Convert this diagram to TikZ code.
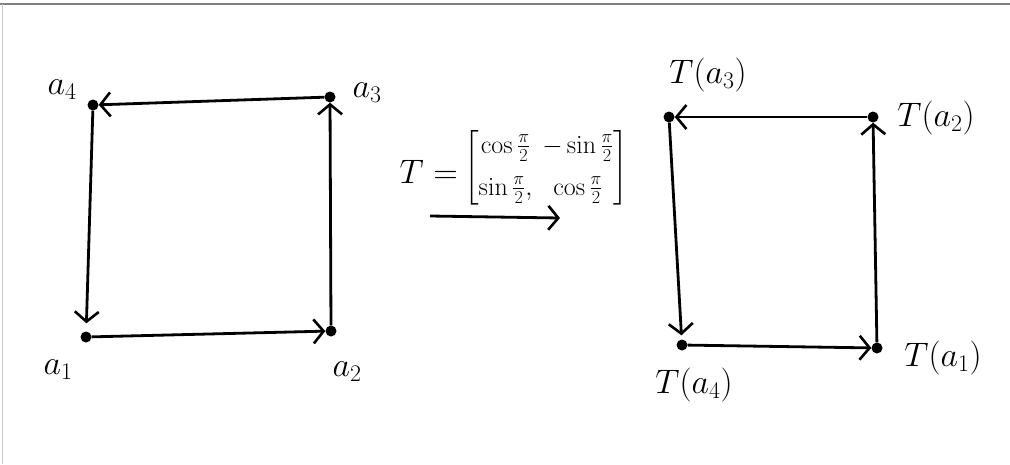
\documentclass[tikz,border=0pt]{standalone}
\usepackage{fix-cm}
\usepackage{amsmath}
\usetikzlibrary{arrows.meta}
\begin{document}
\begin{tikzpicture}[x=1pt,y=-1pt,
  dot/.style={circle,fill=black,inner sep=0pt,minimum size=11pt},
  conn/.style={line width=2.8pt,-{Straight Barb[length=10pt,width=24pt,line width=2.6pt]}},
  lbl/.style={inner sep=0pt,font=\fontsize{34}{38}\selectfont}]
\useasboundingbox (0,0) rectangle (1010,464);
\draw[gray,line width=1.5pt] (0,4) -- (1010,4);
\draw[gray!40,line width=0.8pt] (2,4) -- (2,464);
% left square
\node[dot] (a1) at (86,337) {};
\node[dot] (a2) at (331,331) {};
\node[dot] (a3) at (330,97) {};
\node[dot] (a4) at (93,105) {};
\draw[conn] (a1) -- (a2);
\draw[conn] (a2) -- (a3);
\draw[conn] (a3) -- (a4);
\draw[conn,shorten >=8pt] (a4) -- (a1);
\node[lbl] (la1) at (58,370) {$a_1$};
\node[lbl] (la2) at (347,372) {$a_2$};
\node[lbl] (la3) at (367,93) {$a_3$};
\node[lbl] (la4) at (62,90) {$a_4$};
% transformation
\node[lbl,anchor=east] (teq) at (458,172) {$T=$};
\node[inner sep=0pt,anchor=west,font=\fontsize{26}{30}\selectfont] (mat) at (464,168)
  {$\begin{bmatrix}\cos\frac{\pi}{2} & -\sin\frac{\pi}{2}\\[12pt] \sin\frac{\pi}{2}, & \cos\frac{\pi}{2}\end{bmatrix}$};
\coordinate (ts) at (430,216);
\coordinate (te) at (560,218);
\draw[conn] (ts) -- (te);
% right square
\node[dot] (b4) at (682,345) {};
\node[dot] (b1) at (877,348) {};
\node[dot] (b2) at (873,117) {};
\node[dot] (b3) at (669,117) {};
\draw[conn] (b4) -- (b1);
\draw[conn] (b1) -- (b2);
\draw[conn] (b2) -- (b3);
\draw[conn,shorten >=4pt] (b3) -- (b4);
\node[lbl] (lb3) at (708,75) {$T(a_3)$};
\node[lbl] (lb2) at (936,118) {$T(a_2)$};
\node[lbl] (lb4) at (694,385) {$T(a_4)$};
\node[lbl] (lb1) at (943,358) {$T(a_1)$};
\end{tikzpicture}
\end{document}
